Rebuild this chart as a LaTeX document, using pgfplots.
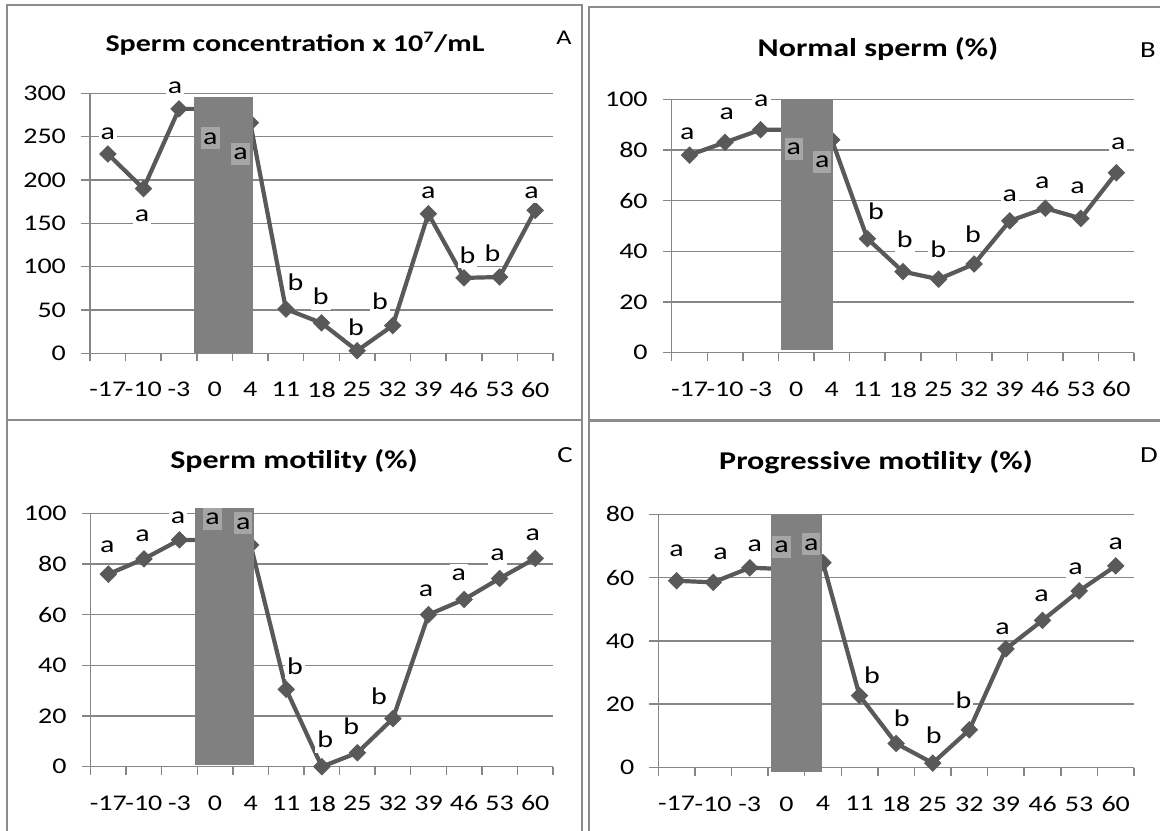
\documentclass[border=0pt]{standalone}
\usepackage{pgfplots}
\pgfplotsset{compat=1.18}
\usepackage{fontspec}
\setmainfont{Carlito}[FakeStretch=1.25]
\definecolor{linegray}{HTML}{595959}
\definecolor{gridgray}{HTML}{868686}
\definecolor{bargray}{HTML}{808080}
\definecolor{boxgray}{HTML}{A6A6A6}
\definecolor{framegray}{HTML}{8C8C8C}

\pgfplotsset{
 geom/.style={scale only axis, clip=false, anchor=south west, xmin=-0.5, xmax=12.5, ymin=0},
 panel/.style={
  geom,
  xtick={0,...,12},
  xticklabels={-17,-10,-3,0,4,11,18,25,32,39,46,53,60},
  minor xtick={-0.5,0.5,...,12.5},
  major x tick style={draw=none},
  minor x tick style={draw=gridgray, line width=0.75pt},
  major y tick style={draw=gridgray, line width=0.75pt},
  tick align=outside, major tick length=4.5pt, minor tick length=4pt,
  axis lines*=left, axis line style={draw=gridgray, line width=0.75pt},
  ymajorgrids, major grid style={draw=gridgray, line width=0.75pt},
  tick label style={font=\fontsize{11.2}{13}\selectfont},
  /pgf/number format/assume math mode=true,
  yticklabel style={xshift=-4pt},
  xticklabel style={yshift=-6.5pt},
 },
 over/.style={geom, hide axis},
 pA/.style={at={(45pt,238.35pt)}, width=231.5pt, height=130pt, ymax=300},
 pB/.style={at={(335.85pt,238.65pt)}, width=231.25pt, height=126.7pt, ymax=100},
 pC/.style={at={(45.3pt,31.65pt)}, width=231.2pt, height=126.7pt, ymax=100},
 pD/.style={at={(329.15pt,31.25pt)}, width=237.85pt, height=126.6pt, ymax=80},
 ser/.style={color=linegray, line width=2.1pt, mark=square*, mark size=2.8pt, mark options={rotate=45, solid, fill=linegray, line width=0.6pt}},
 bar/.style={fill=bargray, draw=none, mark=none},
}
\tikzset{
 lab/.style={fill=white, inner sep=1pt, text height=7.5pt, text depth=1.5pt, font=\fontsize{12}{14}\selectfont},
 glab/.style={lab, fill=boxgray},
 ttl/.style={anchor=base, font=\fontsize{12.8}{15}\selectfont\bfseries},
}

\begin{document}
\begin{tikzpicture}
\useasboundingbox (0,0) rectangle (580pt,415pt);
\fill[white] (0,0) rectangle (580pt,415pt);
% frames
\draw[framegray, line width=1pt] (3.65pt,-2pt) -- (3.65pt,412.5pt) -- (291pt,412.5pt) -- (291pt,-2pt);
\draw[framegray, line width=1pt] (3.65pt,205pt) -- (291pt,205pt);
\draw[framegray, line width=1pt] (582pt,411.5pt) -- (294.5pt,411.5pt) -- (294.5pt,-2pt);
\draw[framegray, line width=1.4pt] (294.5pt,204.65pt) -- (582pt,204.65pt);

% titles
\node[ttl, font=\fontsize{12}{14}\selectfont\bfseries] at (147.5pt,389.15pt) {Sperm concentration x 10\textsuperscript{7}/mL};
\node[ttl] at (439pt,386.65pt) {Normal sperm (\%)};
\node[ttl] at (147pt,180.5pt) {Sperm motility (\%)};
\node[ttl] at (438pt,180pt) {Progressive motility (\%)};
\node[anchor=base, font=\fontsize{10.5}{12}\selectfont] at (282pt,392.5pt) {A};
\node[anchor=base, font=\fontsize{11.5}{13}\selectfont] at (574pt,386pt) {B};
\node[anchor=base, font=\fontsize{11.5}{13}\selectfont] at (282.5pt,183.5pt) {C};
\node[anchor=base, font=\fontsize{11.5}{13}\selectfont] at (574.5pt,183.5pt) {D};

% ---------- Panel A ----------
\begin{axis}[panel, pA, ytick={0,50,...,300}]
\addplot[ser] coordinates {(0,230) (1,190) (2,282) (3,282) (4,266) (5,51) (6,35) (7,3) (8,32) (9,161) (10,87) (11,88) (12,165)};
\end{axis}
\begin{axis}[over, pA]
\addplot[bar] coordinates {(2.43,0) (2.43,295.7) (4.08,295.7) (4.08,0)};
\foreach \x/\y/\t in {0/254/a, 0.96/159/a, 1.89/307/a, 5.27/79.5/b, 5.98/63/b, 6.97/28/b, 7.64/57/b, 9.0/185/a, 10.1/111/b, 10.8/113/b, 11.9/186/a}{
  \edef\tmp{\noexpand\node[lab] at (axis cs:\x,\y) {\t};}\tmp}
\foreach \x/\y/\t in {2.88/248/a, 3.73/230/a}{
  \edef\tmp{\noexpand\node[glab] at (axis cs:\x,\y) {\t};}\tmp}
\end{axis}

% ---------- Panel B ----------
\begin{axis}[panel, pB, ytick={0,20,...,100}]
\addplot[ser] coordinates {(0,78) (1,83) (2,88) (3,88) (4,84) (5,45) (6,32) (7,29) (8,35) (9,52) (10,57) (11,53) (12,71)};
\end{axis}
\begin{axis}[over, pB]
\addplot[bar] coordinates {(2.57,1.1) (2.57,100) (4.02,100) (4.02,1.1)};
\foreach \x/\y/\t in {-0.06/86.6/a, 1.05/94.5/a, 2.02/99.7/a, 5.24/55/b, 6.05/44/b, 6.99/40/b, 7.97/45.8/b, 9.0/62/a, 9.92/67/a, 10.91/65/a, 12.05/82.6/a}{
  \edef\tmp{\noexpand\node[lab] at (axis cs:\x,\y) {\t};}\tmp}
\foreach \x/\y/\t in {2.93/80.4/a, 3.73/75.4/a}{
  \edef\tmp{\noexpand\node[glab] at (axis cs:\x,\y) {\t};}\tmp}
\end{axis}

% ---------- Panel C ----------
\begin{axis}[panel, pC, ytick={0,20,...,100}]
\addplot[ser] coordinates {(0,76) (1,82) (2,89.5) (3,89.5) (4,87.5) (5,30.5) (6,0) (7,5.5) (8,19) (9,60) (10,66) (11,74.3) (12,82.2)};
\end{axis}
\begin{axis}[over, pC]
\addplot[bar] coordinates {(2.43,0.7) (2.43,102) (4.08,102) (4.08,0.7)};
\foreach \x/\y/\t in {-0.03/86.8/a, 0.96/91.4/a, 1.96/98.3/a, 5.25/38.8/b, 6.1/9.9/b, 6.83/15/b, 7.61/27/b, 8.93/69.7/a, 9.85/75.7/a, 10.94/83.8/a, 11.93/91.7/a}{
  \edef\tmp{\noexpand\node[lab] at (axis cs:\x,\y) {\t};}\tmp}
\foreach \x/\y/\t in {2.93/97.8/a, 3.79/96/a}{
  \edef\tmp{\noexpand\node[glab] at (axis cs:\x,\y) {\t};}\tmp}
\end{axis}

% ---------- Panel D ----------
\begin{axis}[panel, pD, ytick={0,20,...,80}]
\addplot[ser] coordinates {(0,59) (1,58.5) (2,63.1) (3,62.7) (4,64.7) (5,22.7) (6,7.6) (7,1.4) (8,11.9) (9,37.5) (10,46.5) (11,55.8) (12,63.7)};
\end{axis}
\begin{axis}[over, pD]
\addplot[bar] coordinates {(2.57,-1.4) (2.57,80) (3.97,80) (3.97,-1.4)};
\foreach \x/\y/\t in {0.0/68.7/a, 1.2/67.6/a, 2.14/70/a, 5.34/28.5/b, 6.15/14.8/b, 7.03/9.5/b, 7.84/20.4/b, 8.91/43.9/a, 9.97/54.4/a, 10.9/62.9/a, 12.0/70.8/a}{
  \edef\tmp{\noexpand\node[lab] at (axis cs:\x,\y) {\t};}\tmp}
\foreach \x/\y/\t in {2.87/69.7/a, 3.68/70.5/a}{
  \edef\tmp{\noexpand\node[glab] at (axis cs:\x,\y) {\t};}\tmp}
\end{axis}
\end{tikzpicture}
\end{document}
